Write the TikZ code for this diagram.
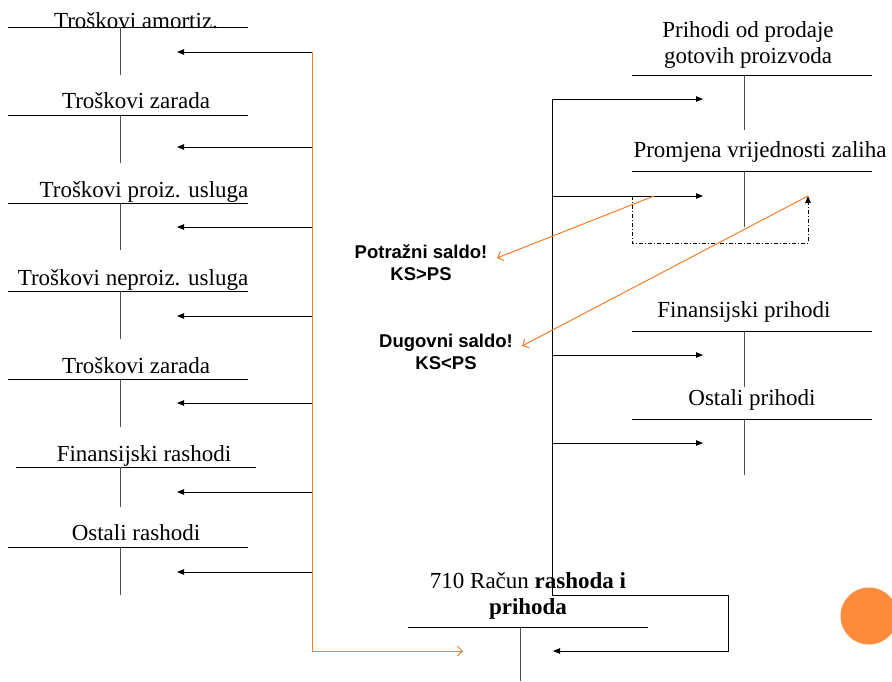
\documentclass[tikz,border=0pt]{standalone}
\usepackage{fontspec}
\setmainfont{Liberation Serif}
\newfontfamily\notefont{Liberation Sans}
\usetikzlibrary{arrows.meta}
\definecolor{saldo}{RGB}{245,125,40}
\definecolor{dotc}{RGB}{252,139,59}
\tikzset{
  acct/.style={anchor=base, inner sep=0pt, align=center, font=\fontsize{23}{25.5}\selectfont},
  note/.style={anchor=base, inner sep=0pt, align=center, font=\notefont\bfseries\fontsize{18.5}{22}\selectfont},
  tline/.style={black, line width=0.9pt},
  tstem/.style={black!70, line width=1pt},
  flow/.style={line width=0.9pt, -{Triangle[length=7pt,width=5.5pt]}},
  oflow/.style={saldo, line width=1pt, -{Straight Barb[length=5pt,width=10pt]}},
}
\begin{document}
\begin{tikzpicture}[x=1pt,y=-1pt]
\useasboundingbox (0,0) rectangle (892,681);
% rashodi
\node[acct] (ra1) at (136,28) {Troškovi amortiz.};
\draw[tline] (8,27) -- (248,27); \draw[tstem] (120,27) -- (120,75);
\node[acct] (ra2) at (136,108) {Troškovi zarada};
\draw[tline] (8,115) -- (248,115); \draw[tstem] (120,115) -- (120,163);
\node[acct] (ra3) at (144,197) {Troškovi proiz. usluga};
\draw[tline] (8,203) -- (248,203); \draw[tstem] (120,203) -- (120,250);
\node[acct] (ra4) at (133,285) {Troškovi neproiz. usluga};
\draw[tline] (8,291) -- (248,291); \draw[tstem] (120,291) -- (120,339);
\node[acct] (ra5) at (136,373) {Troškovi zarada};
\draw[tline] (8,379) -- (248,379); \draw[tstem] (120,379) -- (120,427);
\node[acct] (ra6) at (144,461) {Finansijski rashodi};
\draw[tline] (16,467) -- (256,467); \draw[tstem] (120,467) -- (120,507);
\node[acct] (ra7) at (136,540) {Ostali rashodi};
\draw[tline] (8,547) -- (248,547); \draw[tstem] (120,547) -- (120,595);
% prihodi
\node[acct] (pr1) at (748,63) {Prihodi od prodaje\\gotovih proizvoda};
\draw[tline] (632,75) -- (872,75); \draw[tstem] (744,75) -- (744,130);
\node[acct] (pr2) at (760,157) {Promjena vrijednosti zaliha};
\draw[tline] (632,171) -- (872,171); \draw[tstem] (744,171) -- (744,227);
\node[acct] (pr3) at (744,317) {Finansijski prihodi};
\draw[tline] (632,331) -- (872,331); \draw[tstem] (744,331) -- (744,387);
\node[acct] (pr4) at (752,405) {Ostali prihodi};
\draw[tline] (632,419) -- (872,419); \draw[tstem] (744,419) -- (744,475);
% 710
\node[acct] (rr) at (528,614) {710 Račun \textbf{rashoda i}\\\textbf{prihoda}};
\draw[tline] (408,627) -- (648,627); \draw[tstem] (520,627) -- (520,681);
% lijeva strana
\coordinate (ot1) at (312,52);  \coordinate (ra1e) at (177,52);
\coordinate (ot2) at (312,147); \coordinate (ra2e) at (177,147);
\coordinate (ot3) at (312,227); \coordinate (ra3e) at (177,227);
\coordinate (ot4) at (312,316); \coordinate (ra4e) at (177,316);
\coordinate (ot5) at (312,403); \coordinate (ra5e) at (177,403);
\coordinate (ot6) at (312,492); \coordinate (ra6e) at (177,492);
\coordinate (ot7) at (312,572); \coordinate (ra7e) at (177,572);
\draw[flow] (ot1) -- (ra1e);
\draw[flow] (ot2) -- (ra2e);
\draw[flow] (ot3) -- (ra3e);
\draw[flow] (ot4) -- (ra4e);
\draw[flow] (ot5) -- (ra5e);
\draw[flow] (ot6) -- (ra6e);
\draw[flow] (ot7) -- (ra7e);
\coordinate (obot) at (312,651); \coordinate (rrl) at (463,651);
\draw[oflow] (ot1) -- (obot) -- (rrl);
% desna strana
\coordinate (pt1) at (552,99);  \coordinate (pr1e) at (703,99);
\coordinate (pt2) at (552,196); \coordinate (pr2e) at (703,196);
\coordinate (pt3) at (552,355); \coordinate (pr3e) at (703,355);
\coordinate (pt4) at (552,443); \coordinate (pr4e) at (703,443);
\draw[flow] (pt1) -- (pr1e);
\draw[flow] (pt2) -- (pr2e);
\draw[flow] (pt3) -- (pr3e);
\draw[flow] (pt4) -- (pr4e);
\coordinate (pbot) at (552,595); \coordinate (pk1) at (728,595);
\coordinate (pk2) at (728,651); \coordinate (rrr) at (553,651);
\draw[flow] (pt1) -- (pbot) -- (pk1) -- (pk2) -- (rrr);
% saldo
\coordinate (dd1) at (632,196); \coordinate (dd2) at (632,243);
\coordinate (dd3) at (808,243); \coordinate (dd4) at (808,196);
\draw[flow, dash pattern=on 4pt off 2pt on 1pt off 2pt] (dd1) -- (dd2) -- (dd3) -- (dd4);
\node[note] (pot) at (421,280) {Potražni saldo!\\KS>PS};
\node[note] (dug) at (446,369) {Dugovni saldo!\\KS<PS};
\coordinate (s1) at (654,196); \coordinate (pote) at (497,258);
\coordinate (duge) at (522,346);
\draw[oflow] (s1) -- (pote);
\draw[oflow] (dd4) -- (duge);
\fill[dotc] (869,616) circle (28.5);
\end{tikzpicture}
\end{document}
